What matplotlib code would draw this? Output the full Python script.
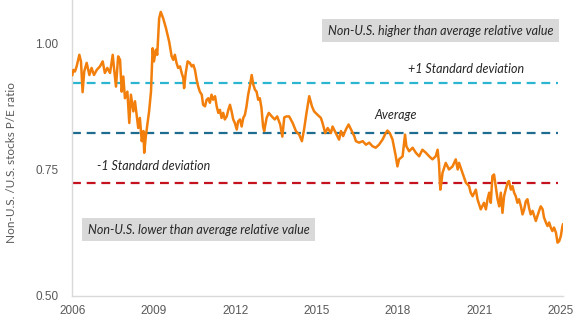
import matplotlib
matplotlib.use("Agg")
import matplotlib.pyplot as plt

# weekly relative P/E, sampled along the series (decimal year, ratio)
years = [
    2006.00, 2006.04, 2006.10, 2006.16, 2006.26, 2006.32, 2006.38, 2006.44, 2006.53, 2006.63,
    2006.71, 2006.80, 2006.90, 2007.02, 2007.12, 2007.20, 2007.29, 2007.39, 2007.49, 2007.55,
    2007.61, 2007.69, 2007.76, 2007.82, 2007.88, 2007.94, 2008.03, 2008.10, 2008.16, 2008.25,
    2008.31, 2008.37, 2008.43, 2008.49, 2008.56, 2008.62, 2008.65, 2008.71, 2008.78, 2008.83,
    2008.90, 2008.96, 2009.01, 2009.08, 2009.13, 2009.20, 2009.26, 2009.35, 2009.45, 2009.57,
    2009.66, 2009.72, 2009.78, 2009.84, 2009.90, 2009.97, 2010.03, 2010.09, 2010.12, 2010.18,
    2010.25, 2010.33, 2010.40, 2010.46, 2010.52, 2010.58, 2010.64, 2010.70, 2010.77, 2010.82,
    2010.89, 2010.95, 2011.01, 2011.07, 2011.13, 2011.19, 2011.26, 2011.32, 2011.38, 2011.44,
    2011.50, 2011.56, 2011.62, 2011.69, 2011.75, 2011.81, 2011.87, 2011.93, 2011.99, 2012.06,
    2012.11, 2012.18, 2012.24, 2012.30, 2012.36, 2012.42, 2012.48, 2012.54, 2012.61, 2012.67,
    2012.73, 2012.79, 2012.85, 2012.91, 2012.97, 2013.03, 2013.07, 2013.16, 2013.24, 2013.35,
    2013.46, 2013.55, 2013.66, 2013.74, 2013.81, 2013.89, 2013.99, 2014.12, 2014.24, 2014.36,
    2014.46, 2014.54, 2014.63, 2014.73, 2014.83, 2014.91, 2015.04, 2015.16, 2015.22, 2015.32,
    2015.41, 2015.53, 2015.59, 2015.71, 2015.83, 2015.90, 2015.98, 2016.08, 2016.18, 2016.27,
    2016.39, 2016.45, 2016.57, 2016.70, 2016.82, 2016.94, 2017.06, 2017.18, 2017.30, 2017.43,
    2017.55, 2017.61, 2017.70, 2017.80, 2017.92, 2017.98, 2018.04, 2018.17, 2018.26, 2018.31,
    2018.41, 2018.54, 2018.66, 2018.78, 2018.90, 2019.03, 2019.15, 2019.27, 2019.39, 2019.46,
    2019.51, 2019.56, 2019.60, 2019.64, 2019.76, 2019.88, 2020.01, 2020.13, 2020.20, 2020.25,
    2020.38, 2020.50, 2020.62, 2020.68, 2020.75, 2020.87, 2020.93, 2021.05, 2021.17, 2021.24,
    2021.30, 2021.36, 2021.42, 2021.48, 2021.54, 2021.60, 2021.67, 2021.73, 2021.79, 2021.85,
    2021.91, 2021.97, 2022.04, 2022.09, 2022.16, 2022.22, 2022.28, 2022.34, 2022.40, 2022.46,
    2022.53, 2022.59, 2022.65, 2022.71, 2022.77, 2022.83, 2022.89, 2022.96, 2023.02, 2023.08,
    2023.14, 2023.20, 2023.26, 2023.33, 2023.38, 2023.45, 2023.51, 2023.57, 2023.63, 2023.69,
    2023.75, 2023.82, 2023.88, 2023.94, 2024.00, 2024.06, 2024.08,
]
pe_ratio = [
    0.937, 0.947, 0.944, 0.954, 0.977, 0.964, 0.903, 0.944, 0.961, 0.937,
    0.951, 0.937, 0.947, 0.954, 0.964, 0.941, 0.951, 0.941, 0.977, 0.944,
    0.914, 0.974, 0.967, 0.904, 0.934, 0.891, 0.904, 0.842, 0.898, 0.865,
    0.885, 0.858, 0.832, 0.852, 0.806, 0.826, 0.783, 0.816, 0.845, 0.865,
    0.904, 0.990, 0.964, 0.987, 0.977, 1.049, 1.062, 1.049, 1.030, 1.003,
    0.974, 0.967, 0.977, 0.961, 0.951, 0.954, 0.941, 0.931, 0.911, 0.941,
    0.964, 0.961, 0.954, 0.957, 0.947, 0.928, 0.914, 0.904, 0.898, 0.878,
    0.875, 0.888, 0.891, 0.882, 0.898, 0.888, 0.895, 0.875, 0.862, 0.868,
    0.852, 0.862, 0.849, 0.855, 0.868, 0.878, 0.865, 0.849, 0.842, 0.829,
    0.845, 0.849, 0.835, 0.852, 0.858, 0.875, 0.898, 0.914, 0.937, 0.918,
    0.908, 0.904, 0.888, 0.891, 0.872, 0.835, 0.826, 0.852, 0.862, 0.855,
    0.849, 0.855, 0.839, 0.815, 0.853, 0.855, 0.855, 0.842, 0.826, 0.819,
    0.806, 0.829, 0.862, 0.895, 0.875, 0.865, 0.858, 0.852, 0.842, 0.822,
    0.832, 0.822, 0.835, 0.822, 0.809, 0.826, 0.816, 0.829, 0.839, 0.829,
    0.816, 0.806, 0.803, 0.806, 0.799, 0.803, 0.796, 0.793, 0.799, 0.809,
    0.822, 0.827, 0.822, 0.809, 0.776, 0.756, 0.770, 0.776, 0.819, 0.796,
    0.786, 0.793, 0.783, 0.776, 0.789, 0.783, 0.776, 0.770, 0.776, 0.789,
    0.763, 0.710, 0.724, 0.743, 0.763, 0.750, 0.756, 0.770, 0.750, 0.763,
    0.743, 0.724, 0.717, 0.704, 0.697, 0.710, 0.691, 0.671, 0.684, 0.671,
    0.691, 0.704, 0.684, 0.737, 0.740, 0.717, 0.691, 0.677, 0.704, 0.664,
    0.697, 0.710, 0.724, 0.727, 0.710, 0.717, 0.704, 0.697, 0.684, 0.691,
    0.677, 0.661, 0.671, 0.687, 0.691, 0.674, 0.661, 0.668, 0.658, 0.648,
    0.658, 0.668, 0.677, 0.671, 0.655, 0.645, 0.638, 0.645, 0.635, 0.628,
    0.635, 0.625, 0.605, 0.608, 0.618, 0.638, 0.641,
]

average = 0.822
std_dev = 0.099

tick_pos = [2006, 2009, 2012, 2015, 2018, 2021, 2024]
tick_labels = ["2006", "2009", "2012", "2015", "2018", "2021", "2025"]
y_ticks = [0.50, 0.75, 1.00]

ORANGE = "#F27F0C"
CYAN = "#2BB5D1"
TEAL = "#1E6C8F"
RED = "#C4121F"
GRID_GRAY = "#D9D9D9"
TEXT_GRAY = "#595959"

fig = plt.figure(figsize=(5.76, 3.27), dpi=100)
ax = fig.add_axes([0.1255, 0.0957, 0.8519, 0.9043])

x0, x1 = years[0], years[-1]
line_end = 2023.88
dash = (0, (4, 2.6))
ax.plot([x0, line_end], [average + std_dev] * 2, color=CYAN, lw=1.6, linestyle=dash)
ax.plot([x0, line_end], [average] * 2, color=TEAL, lw=1.6, linestyle=dash)
ax.plot([x0, line_end], [average - std_dev] * 2, color=RED, lw=1.6, linestyle=dash)
ax.plot(years, pe_ratio, color=ORANGE, lw=1.8, solid_joinstyle="round", zorder=3)

ax.set_xlim(x0, x1)
ax.set_ylim(0.5, 1.0855)
ax.set_xticks(tick_pos)
ax.set_xticklabels(tick_labels)
ax.set_yticks(y_ticks)
ax.set_yticklabels([f"{v:.2f}" for v in y_ticks])
ax.tick_params(axis="both", length=0, labelsize=8.5, labelcolor=TEXT_GRAY)
ax.tick_params(axis="x", pad=7)
ax.tick_params(axis="y", pad=10)
for lbl in ax.get_xticklabels() + ax.get_yticklabels():
    lbl.set_fontfamily("Liberation Sans")

for side in ("top", "right"):
    ax.spines[side].set_visible(False)
for side in ("left", "bottom"):
    ax.spines[side].set_color(GRID_GRAY)
    ax.spines[side].set_linewidth(1.0)

ax.set_ylabel("Non-U.S. /U.S. stocks P/E ratio", fontsize=8.5, color=TEXT_GRAY,
              family="Lato", labelpad=11)
ax.yaxis.set_label_coords(-0.113, 0.45)

note_style = dict(family="Lato", style="italic", fontsize=9, color="#262626",
                  ha="center", va="center")
box = dict(boxstyle="square,pad=0.45", facecolor=GRID_GRAY, edgecolor="none")

ax.text(2019.58, 1.025, "Non-U.S. higher than average relative value", bbox=box, **note_style)
ax.text(2010.65, 0.631, "Non-U.S. lower than average relative value", bbox=box, **note_style)
ax.text(2020.50, average + std_dev + 0.028, "+1 Standard deviation", **note_style)
ax.text(2017.92, average + 0.036, "Average", **note_style)
ax.text(2008.99, average - std_dev + 0.033, "-1 Standard deviation", **note_style)

fig.savefig("out.png", dpi=100)
